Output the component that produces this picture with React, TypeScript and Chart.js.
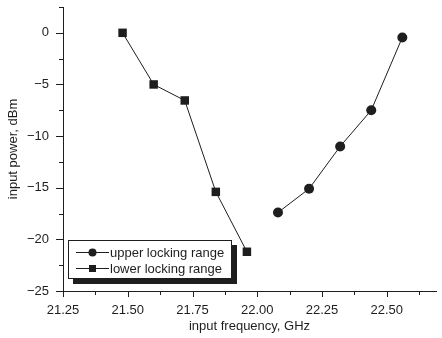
import React, { useEffect, useRef } from 'react';
import { Chart, registerables } from 'chart.js';

Chart.register(...registerables);

const upperFreq = [22.08, 22.2, 22.32, 22.44, 22.56];
const upperPower = [-17.4, -15.1, -11.0, -7.5, -0.45];
const lowerFreq = [21.48, 21.6, 21.72, 21.84, 21.96];
const lowerPower = [0, -5.0, -6.55, -15.4, -21.2];

const xMajorTicks = [21.25, 21.5, 21.75, 22.0, 22.25, 22.5];
const xTickLabels = ['21.25', '21.50', '21.75', '22.00', '22.25', '22.50'];
const xMinorTicks = [21.375, 21.625, 21.875, 22.125, 22.375, 22.625];
const yMajorTicks = [-25, -20, -15, -10, -5, 0];
const yTickLabels = ['\u221225', '\u221220', '\u221215', '\u221210', '\u22125', '0'];
const yMinorTicks = [-22.5, -17.5, -12.5, -7.5, -2.5, 2.5];

const X_MIN = 21.25;
const X_MAX = 22.69;
const Y_MIN = -25;
const Y_MAX = 2.5;

const INK = '#1e1e1e';
const FONT_FAMILY = '"Liberation Sans", Arial, Helvetica, sans-serif';

const tickPlugin = {
  id: 'customTicks',
  afterDraw(chart: any) {
    const { ctx, scales } = chart;
    const xs = scales.x;
    const ys = scales.y;
    const bottom = chart.chartArea.bottom;
    const left = chart.chartArea.left;
    ctx.save();
    ctx.strokeStyle = INK;
    ctx.lineWidth = 1;
    ctx.beginPath();
    const xt = (v: number, len: number) => {
      const px = Math.round(xs.getPixelForValue(v)) + 0.5;
      ctx.moveTo(px, bottom);
      ctx.lineTo(px, bottom + len);
    };
    const yt = (v: number, len: number) => {
      const py = Math.round(ys.getPixelForValue(v)) + 0.5;
      ctx.moveTo(left, py);
      ctx.lineTo(left - len, py);
    };
    xMajorTicks.forEach((v) => xt(v, 6));
    xMinorTicks.forEach((v) => xt(v, 4));
    yMajorTicks.forEach((v) => yt(v, 7));
    yMinorTicks.forEach((v) => yt(v, 4));
    ctx.stroke();
    ctx.restore();
  },
};

const legendPlugin = {
  id: 'shadowLegend',
  afterDraw(chart: any) {
    const { ctx } = chart;
    const bx = 68;
    const by = 240;
    const bw = 164;
    const bh = 39;
    ctx.save();
    ctx.fillStyle = INK;
    ctx.fillRect(bx + 5, by + 5, bw, bh);
    ctx.fillStyle = '#ffffff';
    ctx.fillRect(bx, by, bw, bh);
    ctx.strokeStyle = INK;
    ctx.lineWidth = 1;
    ctx.strokeRect(bx + 0.5, by + 0.5, bw - 1, bh - 1);
    ctx.font = `13px ${FONT_FAMILY}`;
    ctx.textBaseline = 'middle';
    ctx.textAlign = 'left';
    const rows = [by + 12.5, by + 28.5];
    chart.data.datasets.forEach((ds: any, i: number) => {
      const y = rows[i];
      ctx.beginPath();
      ctx.moveTo(76, y);
      ctx.lineTo(109, y);
      ctx.stroke();
      ctx.fillStyle = INK;
      if (ds.pointStyle === 'circle') {
        ctx.beginPath();
        ctx.arc(92.5, y, 4, 0, Math.PI * 2);
        ctx.fill();
      } else {
        ctx.fillRect(89, y - 3.5, 7, 7);
      }
      ctx.fillText(ds.label, 110, y + 0.5);
    });
    ctx.restore();
  },
};

export default function App() {
  const canvasRef = useRef<HTMLCanvasElement | null>(null);

  useEffect(() => {
    if (!canvasRef.current) return;
    const font = { family: FONT_FAMILY, size: 13 };
    const chart = new Chart(canvasRef.current, {
      type: 'line',
      data: {
        datasets: [
          {
            label: 'upper locking range',
            data: upperFreq.map((x, i) => ({ x, y: upperPower[i] })),
            borderColor: INK,
            backgroundColor: INK,
            borderWidth: 1,
            pointStyle: 'circle',
            pointRadius: 5,
            pointBorderWidth: 0,
            pointBackgroundColor: INK,
            tension: 0,
          },
          {
            label: 'lower locking range',
            data: lowerFreq.map((x, i) => ({ x, y: lowerPower[i] })),
            borderColor: INK,
            backgroundColor: INK,
            borderWidth: 1,
            pointStyle: 'rect',
            pointRadius: 6,
            pointBorderWidth: 0,
            pointBackgroundColor: INK,
            tension: 0,
          },
        ],
      },
      options: {
        animation: false,
        responsive: false,
        devicePixelRatio: 1,
        layout: { padding: { top: 7, left: 0, right: 0, bottom: 0 } },
        plugins: {
          legend: { display: false },
          tooltip: { enabled: false },
        },
        scales: {
          x: {
            type: 'linear',
            min: X_MIN,
            max: X_MAX,
            afterBuildTicks: (s: any) => {
              s.ticks = xMajorTicks.map((v) => ({ value: v }));
            },
            afterFit: (s: any) => {
              s.height = 47;
              s.paddingLeft = 0;
              s.paddingRight = 0;
            },
            grid: { display: false, drawTicks: false },
            border: { display: true, color: INK, width: 1 },
            ticks: {
              autoSkip: false,
              maxRotation: 0,
              padding: 12,
              color: INK,
              font,
              callback: (v: any) => {
                const i = xMajorTicks.findIndex((t) => Math.abs(t - Number(v)) < 1e-6);
                return i >= 0 ? xTickLabels[i] : '';
              },
            },
            title: {
              display: true,
              text: 'input frequency, GHz',
              color: INK,
              font,
              padding: { top: 0, bottom: 4 },
            },
          },
          y: {
            type: 'linear',
            min: Y_MIN,
            max: Y_MAX,
            afterBuildTicks: (s: any) => {
              s.ticks = yMajorTicks.map((v) => ({ value: v }));
            },
            afterFit: (s: any) => {
              s.width = 63;
              s.paddingTop = 0;
              s.paddingBottom = 0;
            },
            grid: { display: false, drawTicks: false },
            border: { display: true, color: INK, width: 1 },
            ticks: {
              autoSkip: false,
              padding: 14,
              color: INK,
              font,
              callback: (v: any) => {
                const i = yMajorTicks.findIndex((t) => Math.abs(t - Number(v)) < 1e-6);
                return i >= 0 ? yTickLabels[i] : '';
              },
            },
            title: {
              display: true,
              text: 'input power, dBm',
              color: INK,
              font,
              padding: { top: 6, bottom: 0 },
            },
          },
        },
      },
      plugins: [tickPlugin, legendPlugin],
    } as any);
    return () => chart.destroy();
  }, []);

  return (
    <div style={{ position: 'absolute', left: 0, top: 0, width: 442, height: 338, background: '#fff' }}>
      <canvas ref={canvasRef} width={442} height={338} style={{ width: 442, height: 338, display: 'block' }} />
    </div>
  );
}
